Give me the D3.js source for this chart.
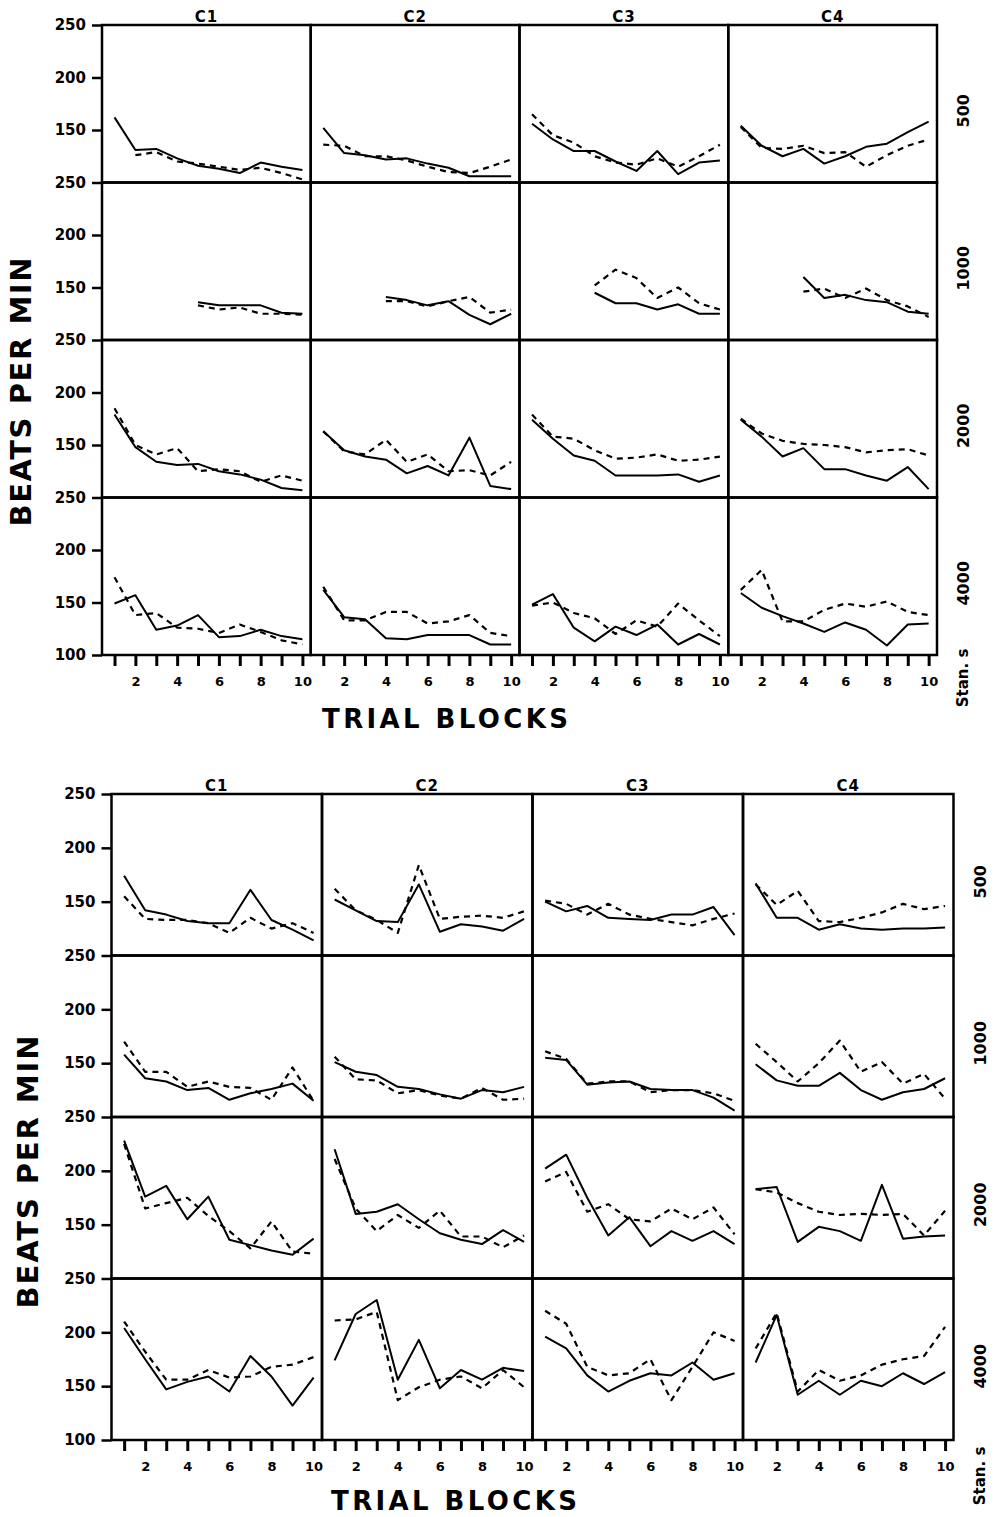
<!DOCTYPE html>
<html>
<head>
<meta charset="utf-8">
<script src="https://cdn.jsdelivr.net/npm/d3@7"></script>
<style>
  body { margin: 0; background: #fff; }
</style>
</head>
<body>
<div id="chart"></div>
<script>
// Shared labels
const trials = [1, 2, 3, 4, 5, 6, 7, 8, 9, 10];
const conditions = ["C1", "C2", "C3", "C4"];
const standards = ["500", "1000", "2000", "4000"];
const yTickValues = [250, 200, 150];
const _ = null;

// Upper figure: one array per standard, one row per condition (C1..C4)
const upper500Solid  = [[162,131,132,123,116,113,109,119,115,112],[152,128,126,122,123,118,114,106,106,106],[156,141,130,130,120,111,130,108,119,121],[154,135,125,132,118,125,134,137,148,158]];
const upper500Dashed = [[_,126,129,120,118,115,112,114,109,103],[136,135,125,125,121,115,110,109,115,122],[165,145,138,125,119,117,123,115,125,136],[153,133,132,135,128,129,115,126,135,141]];
const upper1000Solid  = [[_,_,_,_,136,133,133,133,126,125],[_,_,_,141,138,133,137,124,115,125],[_,_,_,145,135,135,129,134,125,125],[_,_,_,160,140,143,138,136,127,125]];
const upper1000Dashed = [[_,_,_,_,133,129,131,125,125,124],[_,_,_,137,137,132,137,141,126,129],[_,_,_,152,167,159,140,150,135,129],[_,_,_,146,149,140,149,138,132,122]];
const upper2000Solid  = [[179,148,134,131,132,125,122,117,109,107],[163,145,139,136,123,130,121,157,111,108],[174,156,140,135,121,121,121,122,115,121],[174,158,139,147,127,127,121,116,129,108]];
const upper2000Dashed = [[185,150,141,147,125,127,125,115,121,116],[163,144,141,155,134,141,125,126,121,134],[179,158,156,145,137,138,141,135,136,139],[175,161,154,151,150,148,143,145,146,140]];
const upper4000Solid  = [[149,157,124,128,138,117,118,124,118,115],[162,136,134,116,115,119,119,119,110,110],[148,158,126,113,127,119,129,110,120,110],[159,145,137,130,122,131,124,109,129,130]];
const upper4000Dashed = [[174,138,140,126,125,121,129,122,114,110],[165,133,133,141,141,130,132,138,121,118],[147,150,140,135,120,133,127,149,133,118],[162,181,132,132,143,149,146,151,141,138]];

// Lower figure
const lower500Solid  = [[174,142,138,132,130,130,161,133,124,114],[152,142,132,131,166,122,129,127,123,134],[150,141,146,135,134,133,138,138,145,119],[167,135,135,124,129,125,124,125,125,126]];
const lower500Dashed = [[155,134,133,133,130,121,135,125,130,121],[162,142,133,121,184,134,136,137,135,141],[151,148,138,148,138,134,131,128,134,139],[166,147,160,132,131,135,140,148,143,146]];
const lower1000Solid  = [[158,136,133,125,127,116,122,126,131,115],[151,142,139,128,126,121,117,125,123,128],[155,153,130,132,133,126,125,125,118,106],[149,134,129,129,141,125,116,123,126,136]];
const lower1000Dashed = [[170,142,142,128,133,128,127,116,146,115],[156,135,134,122,125,120,117,127,116,117],[161,154,131,133,133,123,125,125,122,115],[168,151,133,150,171,142,151,131,140,117]];
const lower2000Solid  = [[228,176,186,155,176,136,131,126,122,137],[220,160,162,169,155,142,136,132,145,134],[202,215,175,140,157,130,144,135,144,132],[183,185,134,148,144,135,187,137,139,140]];
const lower2000Dashed = [[225,165,170,175,158,144,128,153,125,123],[211,165,144,159,147,163,139,139,129,140],[190,199,162,169,155,153,165,155,166,141],[183,180,170,162,159,160,159,160,140,163]];
const lower4000Solid  = [[204,175,147,154,159,145,178,159,132,158],[174,217,230,156,193,148,165,156,167,164],[196,185,160,145,155,162,160,172,156,162],[172,216,142,155,142,155,150,162,152,163]];
const lower4000Dashed = [[210,182,156,156,165,158,159,168,170,177],[211,212,219,137,149,156,159,148,165,149],[220,208,168,160,162,175,137,168,200,192],[185,218,145,165,155,160,170,175,178,205]];

const width = 995, height = 1517;
const font = "'DejaVu Sans', sans-serif";

const svg = d3.select("#chart").append("svg")
    .attr("width", width)
    .attr("height", height)
    .style("background", "#fff");

// panel geometry
const panels = [
    { left: 102, top: 25, colW: 208.75, rowH: 157.5, labelX: 963, yLabelX: 21, yLabelY: 392, yLabelLen: 269,
      titleX: 445, titleDy: 73, stanDy: 23,
      rows: [[upper500Solid, upper500Dashed], [upper1000Solid, upper1000Dashed], [upper2000Solid, upper2000Dashed], [upper4000Solid, upper4000Dashed]] },
    { left: 111.5, top: 794, colW: 210.5, rowH: 161.5, labelX: 980, yLabelX: 28, yLabelY: 1172, yLabelLen: 273,
      titleX: 454, titleDy: 70, stanDy: 36,
      rows: [[lower500Solid, lower500Dashed], [lower1000Solid, lower1000Dashed], [lower2000Solid, lower2000Dashed], [lower4000Solid, lower4000Dashed]] }
];

function drawPanel(p) {
    const g = svg.append("g");
    const bottom = p.top + 4 * p.rowH;

    p.rows.forEach((series, ri) => {
        const y = d3.scaleLinear().domain([100, 250])
            .range([p.top + (ri + 1) * p.rowH, p.top + ri * p.rowH]);

        // y axis for this row
        const ticks = ri === 3 ? yTickValues.concat([100]) : yTickValues;
        g.append("g")
            .attr("transform", `translate(${p.left},0)`)
            .call(d3.axisLeft(y).tickValues(ticks).tickSize(10).tickPadding(6))
            .call(a => a.select(".domain").remove())
            .call(a => a.selectAll("line").attr("stroke", "#000").attr("stroke-width", 2.5))
            .call(a => a.selectAll("text")
                .attr("font-family", font).attr("font-weight", "bold")
                .attr("font-size", 15).attr("fill", "#000"));

        // standard label on the right
        const cy = p.top + (ri + 0.5) * p.rowH + 7;
        g.append("text")
            .attr("transform", `translate(${p.labelX},${cy}) rotate(-90)`)
            .attr("text-anchor", "middle")
            .attr("dy", "0.36em")
            .attr("font-family", font).attr("font-weight", "bold").attr("font-size", 16)
            .text(standards[ri]);

        conditions.forEach((c, ci) => {
            const x = d3.scaleLinear().domain([0.4, 10.4])
                .range([p.left + ci * p.colW, p.left + (ci + 1) * p.colW]);

            const line = d3.line()
                .defined(d => d.v != null)
                .x(d => x(d.t))
                .y(d => y(d.v));

            series.forEach((s, si) => {
                const pts = trials.map((t, i) => ({ t: t, v: s[ci][i] }));
                g.append("path")
                    .datum(pts)
                    .attr("fill", "none")
                    .attr("stroke", "#000")
                    .attr("stroke-width", si === 0 ? 2 : 2.2)
                    .attr("stroke-dasharray", si === 0 ? null : "6,5")
                    .attr("stroke-linejoin", "round")
                    .attr("d", line);
            });

            // cell frame
            g.append("rect")
                .attr("x", x.range()[0]).attr("y", p.top + ri * p.rowH)
                .attr("width", p.colW).attr("height", p.rowH)
                .attr("fill", "none").attr("stroke", "#000").attr("stroke-width", 2.5);

            if (ri === 3) {
                g.append("g")
                    .attr("transform", `translate(0,${bottom})`)
                    .call(d3.axisBottom(x).tickValues(trials)
                        .tickFormat(d => d % 2 === 0 ? d : "")
                        .tickSize(11).tickPadding(11))
                    .call(a => a.select(".domain").remove())
                    .call(a => a.selectAll("line").attr("stroke", "#000").attr("stroke-width", 3))
                    .call(a => a.selectAll("text")
                        .attr("font-family", font).attr("font-weight", "bold")
                        .attr("font-size", 13).attr("fill", "#000"));
            }
            if (ri === 0) {
                g.append("text")
                    .attr("x", (x.range()[0] + x.range()[1]) / 2)
                    .attr("y", p.top - 3)
                    .attr("text-anchor", "middle")
                    .attr("font-family", font).attr("font-weight", "bold").attr("font-size", 15)
                    .attr("letter-spacing", 1)
                    .text(c);
            }
        });
    });

    // axis titles
    g.append("text")
        .attr("transform", `translate(${p.yLabelX},${p.yLabelY}) rotate(-90)`)
        .attr("text-anchor", "middle")
        .attr("dy", "0.36em")
        .attr("font-family", font).attr("font-weight", "bold").attr("font-size", 29)
        .attr("textLength", p.yLabelLen).attr("lengthAdjust", "spacing")
        .text("BEATS PER MIN");

    g.append("text")
        .attr("x", p.titleX)
        .attr("y", bottom + p.titleDy)
        .attr("text-anchor", "middle")
        .attr("font-family", font).attr("font-weight", "bold").attr("font-size", 26)
        .attr("textLength", 246).attr("lengthAdjust", "spacing")
        .text("TRIAL  BLOCKS");

    g.append("text")
        .attr("transform", `translate(${p.labelX},${bottom + p.stanDy}) rotate(-90)`)
        .attr("text-anchor", "middle")
        .attr("dy", "0.36em")
        .attr("font-family", font).attr("font-weight", "bold").attr("font-size", 15)
        .text("Stan. s");
}

panels.forEach(drawPanel);
</script>
</body>
</html>
